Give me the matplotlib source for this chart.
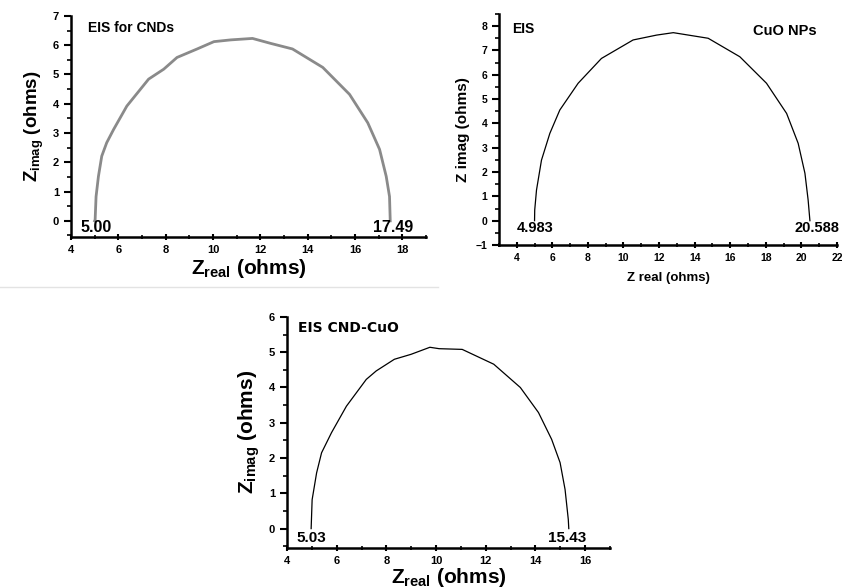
import numpy as np
import matplotlib
matplotlib.use('Agg')
from matplotlib import pyplot as plt
from matplotlib.lines import Line2D
from matplotlib.ticker import MultipleLocator

plt.rcParams['font.family'] = 'Liberation Sans'
plt.rcParams['font.weight'] = 'bold'
plt.rcParams['axes.labelweight'] = 'bold'
plt.rcParams['mathtext.fontset'] = 'custom'
plt.rcParams['mathtext.rm'] = 'Liberation Sans:bold'
plt.rcParams['mathtext.bf'] = 'Liberation Sans:bold'

# EIS for CNDs
cnd_real = [5.00, 5.02, 5.06, 5.16, 5.30, 5.51, 5.80, 6.36, 7.28, 7.92, 8.48, 9.33, 10.04,
            10.75, 11.67, 12.44, 13.36, 14.64, 15.77, 16.54, 17.04, 17.32, 17.46, 17.49]
cnd_imag = [0.0, 0.03, 0.83, 1.52, 2.21, 2.67, 3.12, 3.92, 4.84, 5.18, 5.58, 5.87, 6.12,
            6.18, 6.23, 6.06, 5.87, 5.24, 4.32, 3.35, 2.44, 1.52, 0.83, 0.0]

# EIS CuO NPs
cuo_real = [5.0, 5.01, 5.11, 5.39, 5.86, 6.42, 7.45, 8.76, 10.54, 11.86, 12.8,
            14.76, 16.54, 18.04, 19.17, 19.82, 20.2, 20.38, 20.48]
cuo_imag = [0.0, 0.44, 1.26, 2.49, 3.59, 4.55, 5.65, 6.67, 7.43, 7.63, 7.73,
            7.5, 6.74, 5.65, 4.41, 3.18, 1.95, 0.85, 0.0]

# EIS CND-CuO
mix_real = [4.97, 5.01, 5.19, 5.39, 5.79, 6.39, 7.19, 7.59, 8.32, 8.99, 9.75,
            10.12, 11.05, 12.32, 13.39, 14.12, 14.65, 14.99, 15.19, 15.32, 15.34]
mix_imag = [0.0, 0.82, 1.58, 2.15, 2.72, 3.47, 4.23, 4.47, 4.8, 4.94, 5.14,
            5.1, 5.08, 4.66, 4.0, 3.29, 2.53, 1.87, 1.11, 0.26, 0.0]

fig = plt.figure(figsize=(8.42, 5.88), dpi=100)


def style_axes(ax, xlim, ylim, xstep, fs=8):
    ax.set_xlim(*xlim)
    ax.set_ylim(*ylim)
    ax.spines['top'].set_visible(False)
    ax.spines['right'].set_visible(False)
    ax.spines['left'].set_linewidth(1.8)
    ax.spines['bottom'].set_linewidth(1.8)
    ax.xaxis.set_major_locator(MultipleLocator(xstep))
    ax.xaxis.set_minor_locator(MultipleLocator(xstep / 2))
    ax.yaxis.set_major_locator(MultipleLocator(1))
    ax.yaxis.set_minor_locator(MultipleLocator(0.5))
    ax.tick_params(which='major', direction='inout', length=5, width=1.5, labelsize=fs)
    ax.tick_params(which='minor', direction='inout', length=3, width=1.2)
    ax.tick_params(axis='y', which='both', direction='out')
    ax.patch.set_alpha(0)


# panel 1
ax1 = fig.add_axes([0.0843, 0.597, 0.4216, 0.376])
ax1.plot(cnd_real, cnd_imag, color='#8a8a8a', lw=2)
style_axes(ax1, (4, 19), (-0.55, 7), 2)
ax1.set_xlabel(r'$\mathbf{Z_{real}}$ (ohms)', fontsize=15, labelpad=1)
ax1.set_ylabel(r'$\mathbf{Z_{imag}}$ (ohms)', fontsize=13.5, labelpad=5)
ax1.text(4.7, 6.6, 'EIS for CNDs', fontsize=10, va='center')
ax1.text(4.4, -0.22, '5.00', fontsize=11.5, va='center')
ax1.text(16.75, -0.22, '17.49', fontsize=11.5, va='center')

# panel 2
ax2 = fig.add_axes([0.5926, 0.5833, 0.4014, 0.393])
ax2.plot(cuo_real, cuo_imag, color='black', lw=0.9)
style_axes(ax2, (3, 22), (-1, 8.5), 2, fs=7.5)
ax2.set_xlabel('Z real (ohms)', fontsize=9.5, labelpad=6)
ax2.set_ylabel('Z imag (ohms)', fontsize=11, labelpad=4)
ax2.text(3.75, 7.9, 'EIS', fontsize=10, va='center')
ax2.text(17.3, 7.8, 'CuO NPs', fontsize=10.5, va='center')
ax2.text(4.0, -0.32, '4.983', fontsize=10.5, va='center')
ax2.text(19.6, -0.32, '20.588', fontsize=10.5, va='center')

# panel 3
ax3 = fig.add_axes([0.3409, 0.068, 0.3836, 0.393])
ax3.plot(mix_real, mix_imag, color='black', lw=0.9)
style_axes(ax3, (4, 17), (-0.55, 6), 2)
ax3.set_xlabel(r'$\mathbf{Z_{real}}$ (ohms)', fontsize=15, labelpad=0)
ax3.set_ylabel(r'$\mathbf{Z_{imag}}$ (ohms)', fontsize=15, labelpad=5)
ax3.text(4.45, 5.7, 'EIS CND-CuO', fontsize=10, va='center', family='DejaVu Sans')
ax3.text(4.4, -0.27, '5.03', fontsize=11, va='center')
ax3.text(14.5, -0.27, '15.43', fontsize=11, va='center')

# light separator under the first panel
fig.add_artist(Line2D([0, 438 / 842], [1 - 287 / 588] * 2, color='#e3e3e3', lw=1))

fig.savefig('out.png', dpi=100)
